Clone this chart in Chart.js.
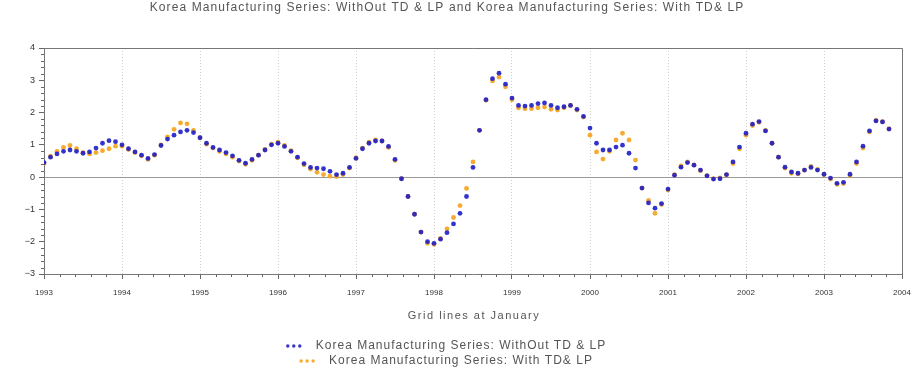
<!DOCTYPE html>
<html>
<head>
<meta charset="utf-8">
<script src="https://cdn.jsdelivr.net/npm/chart.js@4.4.0/dist/chart.umd.min.js"></script>
<style>
  html, body { margin: 0; background: #fff; }
  #wrap { width: 914px; height: 371px; }
</style>
</head>
<body>
<div id="wrap"><canvas id="chart"></canvas></div>
<script>
// Korea manufacturing series, monthly from Jan 1993
const START_YEAR = 1993;
const TITLE = 'Korea Manufacturing Series: WithOut TD & LP and Korea Manufacturing Series: With TD& LP';
const X_TITLE = 'Grid lines at January';
const SERIES_NAMES = ['Korea Manufacturing Series: WithOut TD & LP', 'Korea Manufacturing Series: With TD& LP'];
const YEAR_TICKS = [1993, 1994, 1995, 1996, 1997, 1998, 1999, 2000, 2001, 2002, 2003, 2004];
const Y_TICKS = [-3, -2, -1, 0, 1, 2, 3, 4];

const withoutTdLp = [
  0.45, 0.62, 0.72, 0.80, 0.84, 0.80, 0.74, 0.78, 0.90, 1.05, 1.13, 1.10,
  1.00, 0.88, 0.78, 0.68, 0.58, 0.70, 0.98, 1.18, 1.30, 1.40, 1.45, 1.38,
  1.22, 1.05, 0.92, 0.84, 0.76, 0.66, 0.52, 0.43, 0.55, 0.68, 0.84, 1.00,
  1.05, 0.95, 0.80, 0.62, 0.42, 0.30, 0.28, 0.26, 0.18, 0.08, 0.12, 0.30,
  0.58, 0.88, 1.05, 1.12, 1.12, 0.95, 0.55, -0.05, -0.60, -1.15, -1.70, -2.00,
  -2.05, -1.92, -1.72, -1.45, -1.12, -0.60, 0.30, 1.45, 2.40, 3.05, 3.22, 2.88,
  2.45, 2.22, 2.20, 2.22, 2.28, 2.30, 2.22, 2.15, 2.18, 2.22, 2.10, 1.88,
  1.52, 1.05, 0.84, 0.84, 0.93, 0.99, 0.74, 0.28, -0.34, -0.80, -0.96, -0.82,
  -0.37, 0.06, 0.31, 0.45, 0.37, 0.22, 0.04, -0.06, -0.05, 0.08, 0.47, 0.93,
  1.36, 1.64, 1.72, 1.43, 1.05, 0.62, 0.31, 0.16, 0.12, 0.22, 0.30, 0.22,
  0.09, -0.03, -0.19, -0.16, 0.09, 0.47, 0.96, 1.43, 1.74, 1.71, 1.49
];

const withTdLp = [
  0.42, 0.65, 0.80, 0.92, 0.98, 0.88, 0.76, 0.72, 0.76, 0.82, 0.88, 0.96,
  0.96, 0.86, 0.76, 0.66, 0.55, 0.68, 1.00, 1.25, 1.48, 1.68, 1.65, 1.45,
  1.22, 1.02, 0.90, 0.80, 0.72, 0.62, 0.50, 0.40, 0.52, 0.68, 0.86, 1.02,
  1.08, 0.98, 0.82, 0.60, 0.38, 0.25, 0.15, 0.08, 0.03, 0.02, 0.08, 0.28,
  0.60, 0.90, 1.08, 1.15, 1.12, 0.92, 0.52, -0.05, -0.60, -1.15, -1.70, -2.05,
  -2.08, -1.90, -1.60, -1.25, -0.88, -0.35, 0.47, 1.45, 2.38, 2.98, 3.10, 2.80,
  2.40, 2.15, 2.12, 2.12, 2.15, 2.17, 2.10, 2.08, 2.15, 2.22, 2.08, 1.86,
  1.30, 0.78, 0.56, 0.80, 1.15, 1.36, 1.15, 0.53, -0.34, -0.72, -1.12, -0.85,
  -0.40, 0.08, 0.35, 0.47, 0.38, 0.20, 0.05, -0.05, -0.02, 0.07, 0.42, 0.88,
  1.30, 1.60, 1.70, 1.45, 1.05, 0.62, 0.28, 0.12, 0.10, 0.22, 0.33, 0.24,
  0.08, -0.06, -0.22, -0.20, 0.05, 0.42, 0.90, 1.40, 1.76, 1.72, 1.50
];

const BLUE = 'rgba(30, 30, 200, 0.9)';
const ORANGE = 'rgba(245, 165, 35, 0.95)';
const FONT = '"Liberation Sans", Arial, sans-serif';

function toPoints(values) {
  return values.map((v, i) => ({ x: START_YEAR + i / 12, y: v }));
}

// title, axis title, legend, frame and minor ticks
const decorPlugin = {
  id: 'decor',
  afterDraw(chart) {
    const { ctx, chartArea: a, scales } = chart;
    ctx.save();
    // frame (top + right)
    ctx.strokeStyle = '#777';
    ctx.lineWidth = 1;
    ctx.beginPath();
    ctx.moveTo(a.left, a.top + 0.5);
    ctx.lineTo(a.right + 0.5, a.top + 0.5);
    ctx.lineTo(a.right + 0.5, a.bottom);
    ctx.stroke();

    // minor ticks
    ctx.strokeStyle = '#666';
    ctx.beginPath();
    for (let k = -15; k <= 20; k++) {
      if (k % 5 === 0) continue;
      const y = Math.round(scales.y.getPixelForValue(k / 5)) + 0.5;
      ctx.moveTo(a.left - 3, y);
      ctx.lineTo(a.left, y);
    }
    for (let k = 0; k <= 55; k++) {
      if (k % 5 === 0) continue;
      const x = Math.round(scales.x.getPixelForValue(START_YEAR + k / 5)) + 0.5;
      ctx.moveTo(x, a.bottom);
      ctx.lineTo(x, a.bottom + 3);
    }
    ctx.stroke();

    // title
    ctx.fillStyle = '#555';
    ctx.font = '12px ' + FONT;
    ctx.letterSpacing = '1.1px';
    ctx.textAlign = 'center';
    ctx.textBaseline = 'middle';
    ctx.fillText(TITLE, 447, 8);

    // x axis title
    ctx.font = '11px ' + FONT;
    ctx.letterSpacing = '1.5px';
    ctx.fillText(X_TITLE, 474, 316);

    // legend
    const colors = [BLUE, ORANGE];
    const rowsY = [346, 361];
    ctx.font = '12px ' + FONT;
    ctx.letterSpacing = '1px';
    ctx.textAlign = 'left';
    SERIES_NAMES.forEach((name, i) => {
      const tw = ctx.measureText(name).width;
      const total = 16 + 14 + tw;
      const x0 = 446 - total / 2;
      ctx.fillStyle = colors[i];
      for (let d = 0; d < 3; d++) {
        ctx.beginPath();
        ctx.arc(x0 + 2 + d * 6, rowsY[i], 1.7, 0, Math.PI * 2);
        ctx.fill();
      }
      ctx.fillStyle = '#555';
      ctx.fillText(name, x0 + 30, rowsY[i]);
    });
    ctx.restore();
  }
};

const ctx = document.getElementById('chart').getContext('2d');
new Chart(ctx, {
  type: 'scatter',
  data: {
    datasets: [
      {
        label: SERIES_NAMES[0],
        data: toPoints(withoutTdLp),
        backgroundColor: BLUE,
        borderColor: BLUE,
        pointRadius: 2.4,
        borderWidth: 0
      },
      {
        label: SERIES_NAMES[1],
        data: toPoints(withTdLp),
        backgroundColor: ORANGE,
        borderColor: ORANGE,
        pointRadius: 2.4,
        borderWidth: 0
      }
    ]
  },
  options: {
    responsive: true,
    maintainAspectRatio: false,
    animation: false,
    layout: { padding: { left: 0, right: 12, top: 48, bottom: 47 } },
    plugins: {
      legend: { display: false },
      title: { display: false },
      tooltip: { enabled: false }
    },
    scales: {
      x: {
        type: 'linear',
        min: 1993,
        max: 2004,
        afterBuildTicks: s => { s.ticks = YEAR_TICKS.map(v => ({ value: v })); },
        afterFit: s => { s.height = 50; s.paddingLeft = 0; s.paddingRight = 0; },
        ticks: {
          autoSkip: false,
          maxRotation: 0,
          padding: 9,
          color: '#333',
          font: { size: 8, family: FONT },
          callback: v => String(v)
        },
        grid: {
          color: '#d0d0d0',
          tickColor: '#666',
          tickLength: 5,
          lineWidth: 1
        },
        border: { display: true, color: '#777', dash: [1, 2] }
      },
      y: {
        min: -3,
        max: 4,
        afterBuildTicks: s => { s.ticks = Y_TICKS.map(v => ({ value: v })); },
        afterFit: s => { s.width = 44; },
        ticks: {
          padding: 4,
          color: '#333',
          font: { size: 9, family: FONT },
          callback: v => (v < 0 ? '\u2212' + Math.abs(v) : String(v))
        },
        grid: {
          color: c => (c.tick && c.tick.value === 0 ? '#999' : 'rgba(0,0,0,0)'),
          tickColor: '#666',
          tickLength: 5,
          lineWidth: 1
        },
        border: { display: true, color: '#777' }
      }
    }
  },
  plugins: [decorPlugin]
});
</script>
</body>
</html>
